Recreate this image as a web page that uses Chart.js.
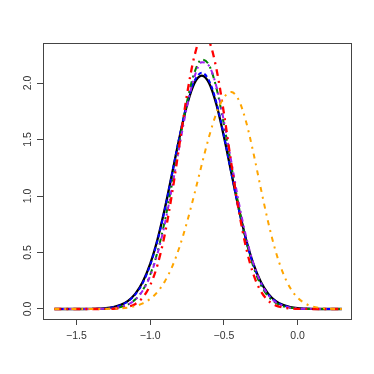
<!DOCTYPE html>
<html>
<head>
<meta charset="utf-8">
<script src="https://cdn.jsdelivr.net/npm/chart.js@4/dist/chart.umd.min.js"></script>
<style>
  body { margin: 0; background: #fff; }
  #wrap { width: 374px; height: 374px; }
</style>
</head>
<body>
<div id="wrap"><canvas id="my-chart" width="374" height="374"></canvas></div>
<script>
// x grid shared by all density curves
const xs = [-1.65, -1.60, -1.55, -1.50, -1.45, -1.40, -1.35, -1.30, -1.25, -1.20,
  -1.15, -1.10, -1.05, -1.00, -0.95, -0.90, -0.85, -0.80, -0.75, -0.70,
  -0.65, -0.60, -0.55, -0.50, -0.45, -0.40, -0.35, -0.30, -0.25, -0.20,
  -0.15, -0.10, -0.05, 0.00, 0.05, 0.10, 0.15, 0.20, 0.25, 0.30];

const blackY = [0, 0, 0, 0, 0, 0.001, 0.003, 0.007, 0.017, 0.036,
  0.072, 0.136, 0.241, 0.399, 0.617, 0.893, 1.208, 1.526, 1.805, 1.997,
  2.065, 1.997, 1.805, 1.526, 1.208, 0.893, 0.617, 0.399, 0.241, 0.136,
  0.072, 0.036, 0.017, 0.007, 0.003, 0.001, 0, 0, 0, 0];

const blueY = [0, 0, 0, 0, 0, 0.001, 0.002, 0.006, 0.015, 0.033,
  0.068, 0.130, 0.232, 0.389, 0.608, 0.886, 1.206, 1.535, 1.823, 2.019,
  2.090, 2.019, 1.823, 1.535, 1.206, 0.886, 0.608, 0.389, 0.232, 0.130,
  0.068, 0.033, 0.015, 0.006, 0.002, 0.001, 0, 0, 0, 0];

const greenY = [0, 0, 0, 0, 0, 0, 0.001, 0.003, 0.007, 0.018,
  0.041, 0.086, 0.167, 0.303, 0.506, 0.785, 1.123, 1.492, 1.836, 2.091,
  2.206, 2.157, 1.952, 1.635, 1.271, 0.913, 0.608, 0.374, 0.214, 0.113,
  0.055, 0.025, 0.011, 0.004, 0.001, 0, 0, 0, 0, 0];

const purpleY = [0, 0, 0, 0, 0, 0, 0.001, 0.003, 0.007, 0.018,
  0.040, 0.084, 0.163, 0.293, 0.491, 0.758, 1.091, 1.451, 1.793, 2.054,
  2.183, 2.150, 1.964, 1.662, 1.307, 0.951, 0.642, 0.403, 0.234, 0.126,
  0.062, 0.029, 0.012, 0.005, 0.002, 0.001, 0, 0, 0, 0];

const redY = [0, 0, 0, 0, 0, 0, 0, 0.001, 0.002, 0.007,
  0.019, 0.045, 0.102, 0.210, 0.392, 0.666, 1.036, 1.468, 1.900, 2.238,
  2.410, 2.367, 2.120, 1.733, 1.290, 0.878, 0.545, 0.307, 0.159, 0.075,
  0.032, 0.013, 0.005, 0.001, 0.001, 0, 0, 0, 0, 0];

const orangeY = [0, 0, 0, 0, 0, 0, 0.001, 0.001, 0.003, 0.006,
  0.013, 0.026, 0.050, 0.089, 0.152, 0.246, 0.378, 0.553, 0.770, 1.018,
  1.279, 1.528, 1.736, 1.872, 1.920, 1.851, 1.659, 1.382, 1.069, 0.770,
  0.515, 0.321, 0.185, 0.100, 0.050, 0.023, 0.010, 0.004, 0.001, 0];

const xTicks = [-1.5, -1.0, -0.5, 0.0];
const xTickLabels = ['\u22121.5', '\u22121.0', '\u22120.5', '0.0'];
const yTicks = [0, 0.5, 1.0, 1.5, 2.0];
const yTickLabels = ['0.0', '0.5', '1.0', '1.5', '2.0'];

function pts(ys) {
  return xs.map(function (x, i) { return { x: x, y: ys[i] }; });
}

function curve(ys, color, width, dash, order) {
  return {
    data: pts(ys),
    borderColor: color,
    borderWidth: width,
    borderDash: dash,
    pointRadius: 0,
    fill: false,
    cubicInterpolationMode: 'monotone',
    order: order
  };
}

// box around plot + R style tick labels
const rAxes = {
  id: 'rAxes',
  afterDraw: function (chart) {
    const ctx = chart.ctx;
    const a = chart.chartArea;
    const sx = chart.scales.x;
    const sy = chart.scales.y;
    ctx.save();
    ctx.strokeStyle = '#444';
    ctx.lineWidth = 1;
    ctx.strokeRect(a.left + 0.5, a.top + 0.5, a.right - a.left, a.bottom - a.top);
    ctx.fillStyle = '#333';
    ctx.font = '10.5px "Liberation Sans", Arial, sans-serif';
    ctx.textAlign = 'center';
    ctx.textBaseline = 'middle';
    xTicks.forEach(function (v, i) {
      ctx.fillText(xTickLabels[i], sx.getPixelForValue(v), 336);
    });
    yTicks.forEach(function (v, i) {
      ctx.save();
      ctx.translate(28, sy.getPixelForValue(v));
      ctx.rotate(-Math.PI / 2);
      ctx.fillText(yTickLabels[i], 0, 0);
      ctx.restore();
    });
    ctx.restore();
  }
};

window.addEventListener('DOMContentLoaded', function () {
  const ctx = document.getElementById('my-chart').getContext('2d');
  new Chart(ctx, {
    type: 'line',
    data: {
      datasets: [
        curve(blackY, '#000000', 2.3, [], 6),
        curve(blueY, '#0000ff', 2, [4, 3], 5),
        curve(greenY, '#008000', 2, [6, 4, 2, 4], 4),
        curve(purpleY, '#a020f0', 2, [5, 4, 2, 4], 3),
        curve(redY, '#ff0000', 2.3, [7, 5, 2, 5], 2),
        curve(orangeY, '#ffa500', 2, [5, 5, 2, 5], 1)
      ]
    },
    options: {
      responsive: false,
      animation: false,
      layout: { padding: { top: 43, right: 23, left: 0, bottom: 0 } },
      plugins: { legend: { display: false }, tooltip: { enabled: false } },
      scales: {
        x: {
          type: 'linear',
          min: -1.727,
          max: 0.362,
          afterBuildTicks: function (s) { s.ticks = xTicks.map(function (v) { return { value: v }; }); },
          afterFit: function (s) { s.height = 55; },
          ticks: { display: false },
          border: { display: false },
          grid: { drawOnChartArea: false, drawTicks: true, tickLength: 6, color: '#444', lineWidth: 1 }
        },
        y: {
          type: 'linear',
          min: -0.0885,
          max: 2.354,
          afterBuildTicks: function (s) { s.ticks = yTicks.map(function (v) { return { value: v }; }); },
          afterFit: function (s) { s.width = 43; },
          ticks: { display: false },
          border: { display: false },
          grid: { drawOnChartArea: false, drawTicks: true, tickLength: 6, color: '#444', lineWidth: 1 }
        }
      }
    },
    plugins: [rAxes]
  });
});
</script>
</body>
</html>
